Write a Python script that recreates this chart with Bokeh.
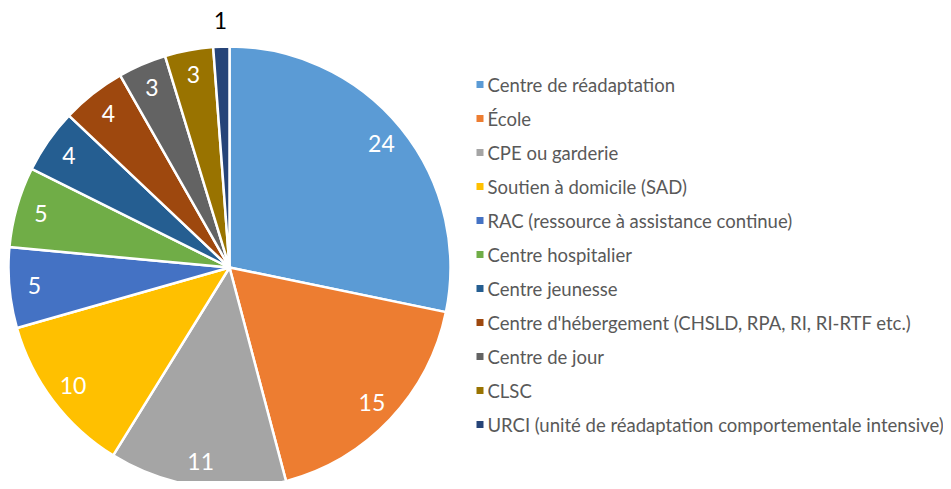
import numpy as np
from bokeh.plotting import figure
from bokeh.models import Range1d, ColumnDataSource
from bokeh.core.properties import value
from bokeh.embed import file_html
from bokeh.resources import INLINE

categories = [
    "Centre de réadaptation",
    "École",
    "CPE ou garderie",
    "Soutien à domicile (SAD)",
    "RAC (ressource à assistance continue)",
    "Centre hospitalier",
    "Centre jeunesse",
    "Centre d'hébergement (CHSLD, RPA, RI, RI-RTF etc.)",
    "Centre de jour",
    "CLSC",
    "URCI (unité de réadaptation comportementale intensive)",
]
counts = [24, 15, 11, 10, 5, 5, 4, 4, 3, 3, 1]
colors = ["#5B9BD5", "#ED7D31", "#A5A5A5", "#FFC000", "#4472C4", "#70AD47",
          "#255E91", "#9E480E", "#636363", "#997300", "#264478"]

W, H = 943, 481
p = figure(width=W, height=H, output_backend="svg", toolbar_location=None,
           x_range=Range1d(0, W), y_range=Range1d(489 - H, 489),
           min_border=0, outline_line_color=None)
p.axis.visible = False
p.grid.visible = False
p.background_fill_color = "white"
p.border_fill_color = "white"

# image coords -> data: y_data = 489 - y_img
cx, cy = 229, 489 - 267
R = 221

vals = np.array(counts, dtype=float)
frac = vals / vals.sum()
cum = np.concatenate([[0], np.cumsum(frac)])
start = np.pi / 2 - 2 * np.pi * cum[:-1]
end = np.pi / 2 - 2 * np.pi * cum[1:]
mid = (start + end) / 2

src = ColumnDataSource(dict(start=start, end=end, color=colors))
p.wedge(x=cx, y=cy, radius=R, start_angle="start", end_angle="end",
        direction="clock", fill_color="color", line_color="white",
        line_width=2.5, source=src)

inside = frac >= 0.02
lr = np.where(inside, 196, 247)
lx = cx + lr * np.cos(mid)
ly = cy + lr * np.sin(mid)
lsrc = ColumnDataSource(dict(x=lx, y=ly, t=[str(c) for c in counts],
                             c=["white" if i else "black" for i in inside]))
p.text(x="x", y="y", text="t", text_color="c", source=lsrc,
       text_font=value("Lato"), text_font_size="23px",
       text_align="center", text_baseline="middle")

# legend
n = len(categories)
rows_img = 84 + np.arange(n) * 34
ly2 = 489 - rows_img
gsrc = ColumnDataSource(dict(x=np.full(n, 479.5), y=ly2, tx=np.full(n, 487.0),
                             color=colors, t=categories))
p.rect(x="x", y="y", width=7, height=7, fill_color="color", line_color=None,
       source=gsrc)
p.text(x="tx", y="y", text="t", source=gsrc, text_color="#595959",
       text_font=value("Lato"), text_font_size="18.5px",
       text_align="left", text_baseline="middle")

open("out.html", "w").write(file_html(p, INLINE))
